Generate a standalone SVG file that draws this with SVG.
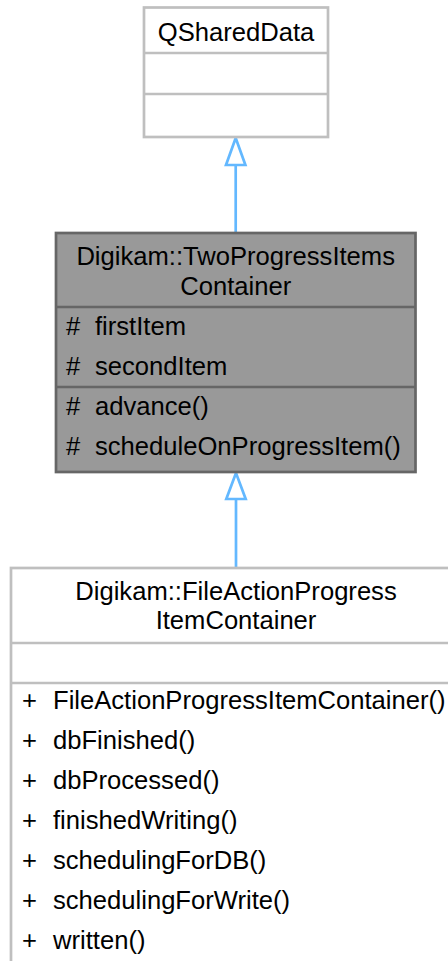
<svg xmlns="http://www.w3.org/2000/svg" width="448" height="961" viewBox="0 0 448 961">
<style>
text{font-family:"Liberation Sans",Arial,Helvetica,sans-serif;font-size:25.6px;fill:#000}
.c{text-anchor:middle}
.lb{fill:#fff;stroke:#bfbfbf;stroke-width:2.7}
.ln{stroke:#bfbfbf;stroke-width:2.7;fill:none}
.db{fill:#999999;stroke:#666666;stroke-width:2.7}
.dn{stroke:#666666;stroke-width:2.7;fill:none}
.edge{stroke:#63b8ff;stroke-width:2.7;fill:none}
.head{fill:#fff;stroke:#63b8ff;stroke-width:2.7}
</style>
<rect width="448" height="961" fill="#fff"/>
<g id="connectors">
<line class="edge" x1="235.7" y1="165" x2="235.7" y2="233"/>
<polygon class="head" points="235.7,138 226,165 245.4,165"/>
<line class="edge" x1="236" y1="499" x2="236" y2="568"/>
<polygon class="head" points="236,473 226.3,499 245.7,499"/>
</g>
<g id="QSharedData">
<rect class="lb" x="144" y="7.5" width="184" height="129.5"/>
<line class="ln" x1="144" y1="53" x2="328" y2="53"/>
<line class="ln" x1="144" y1="94" x2="328" y2="94"/>
<text class="c" x="236" y="41">QSharedData</text>
</g>
<g id="TwoProgressItemsContainer">
<rect class="db" x="56" y="233" width="359.5" height="239"/>
<line class="dn" x1="56" y1="307" x2="415.5" y2="307"/>
<line class="dn" x1="56" y1="387" x2="415.5" y2="387"/>
<text class="c" x="235.7" y="265">Digikam::TwoProgressItems</text>
<text class="c" x="235.7" y="295">Container</text>
<text x="66" y="335">#</text><text x="95" y="335">firstItem</text>
<text x="66" y="375">#</text><text x="95" y="375">secondItem</text>
<text x="66" y="415">#</text><text x="95" y="415">advance()</text>
<text x="66" y="455">#</text><text x="95" y="455">scheduleOnProgressItem()</text>
</g>
<g id="FileActionProgressItemContainer">
<rect class="lb" x="11" y="568" width="450" height="420"/>
<line class="ln" x1="11" y1="643" x2="461" y2="643"/>
<line class="ln" x1="11" y1="683" x2="461" y2="683"/>
<text class="c" x="236" y="600">Digikam::FileActionProgress</text>
<text class="c" x="236" y="629">ItemContainer</text>
<text x="22" y="709">+</text><text x="53" y="709">FileActionProgressItemContainer()</text>
<text x="22" y="749">+</text><text x="53" y="749">dbFinished()</text>
<text x="22" y="789">+</text><text x="53" y="789">dbProcessed()</text>
<text x="22" y="829">+</text><text x="53" y="829">finishedWriting()</text>
<text x="22" y="869">+</text><text x="53" y="869">schedulingForDB()</text>
<text x="22" y="909">+</text><text x="53" y="909">schedulingForWrite()</text>
<text x="22" y="949">+</text><text x="53" y="949">written()</text>
</g>
</svg>
